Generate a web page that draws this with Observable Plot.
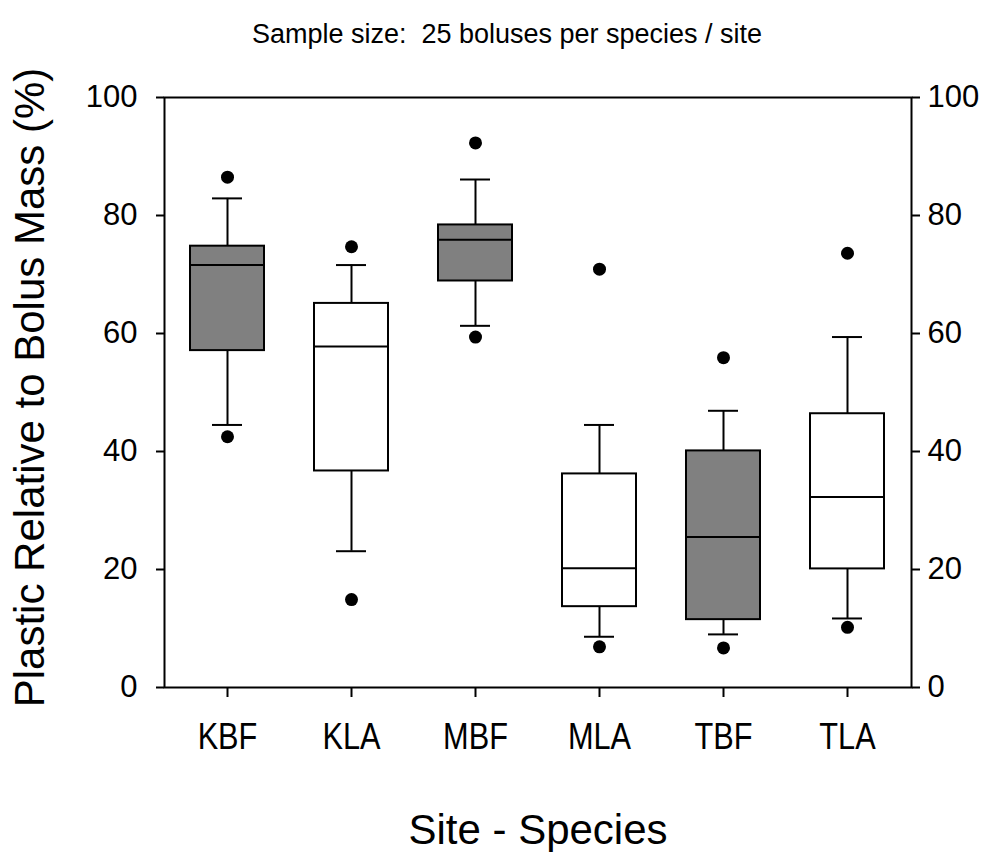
<!DOCTYPE html>
<html>
<head>
<meta charset="utf-8">
<script src="https://cdn.jsdelivr.net/npm/d3@7"></script>
<script src="https://cdn.jsdelivr.net/npm/@observablehq/plot@0.6"></script>
<style>
  html, body { margin: 0; padding: 0; background: #fff; overflow: hidden; }
</style>
</head>
<body>
<div id="chart"></div>
<script>
const categories = ["KBF", "KLA", "MBF", "MLA", "TBF", "TLA"];
const whiskerLow  = [44.5, 23.1, 61.3,  8.6,  9.0, 11.7];
const q1          = [57.1, 36.7, 68.9, 13.7, 11.5, 20.1];
const median      = [71.6, 57.8, 75.9, 20.2, 25.5, 32.3];
const q3          = [74.8, 65.1, 78.4, 36.2, 40.1, 46.4];
const whiskerHigh = [82.9, 71.6, 86.1, 44.5, 46.9, 59.4];
const outlierLow  = [42.5, 14.9, 59.4,  6.9,  6.7, 10.2];
const outlierHigh = [86.5, 74.7, 92.3, 70.9, 55.9, 73.6];
const yTicks = [0, 20, 40, 60, 80, 100];
const titleText = "Sample size:  25 boluses per species / site";
const xLabel = "Site - Species";
const yLabel = "Plastic Relative to Bolus Mass (%)";

const rows = categories.map((c, i) => ({
  cat: c, species: c.slice(1),
  lo: whiskerLow[i], q1: q1[i], med: median[i], q3: q3[i], hi: whiskerHigh[i]
}));
const outliers = categories.flatMap((c, i) => [
  {cat: c, v: outlierLow[i]}, {cat: c, v: outlierHigh[i]}
]);

const font = "'Liberation Sans', Arial, sans-serif";
const chart = Plot.plot({
  width: 994,
  height: 852,
  marginTop: 97,
  marginBottom: 165,
  marginLeft: 164,
  marginRight: 83,
  style: {fontFamily: font, color: "black", background: "white"},
  x: {type: "band", domain: categories, paddingInner: 0.4, paddingOuter: 0.2},
  y: {domain: [0, 100]},
  color: {domain: ["BF", "LA"], range: ["#808080", "#ffffff"]},
  marks: [
    Plot.ruleX(rows, {x: "cat", y1: "lo", y2: "q1", stroke: "black", strokeWidth: 2}),
    Plot.ruleX(rows, {x: "cat", y1: "q3", y2: "hi", stroke: "black", strokeWidth: 2}),
    Plot.tickY(rows, {x: "cat", y: "lo", stroke: "black", strokeWidth: 2, insetLeft: 22, insetRight: 22}),
    Plot.tickY(rows, {x: "cat", y: "hi", stroke: "black", strokeWidth: 2, insetLeft: 22, insetRight: 22}),
    Plot.barY(rows, {x: "cat", y1: "q1", y2: "q3", fill: "species", stroke: "black", strokeWidth: 2}),
    Plot.tickY(rows, {x: "cat", y: "med", stroke: "black", strokeWidth: 2}),
    Plot.dot(outliers, {x: "cat", y: "v", r: 6.5, fill: "black", stroke: null}),
    Plot.frame({stroke: "black", strokeWidth: 2}),
    Plot.axisY({anchor: "left", ticks: yTicks, tickSize: 8, tickPadding: 19, fontSize: 31, strokeWidth: 2, label: null, tickFormat: d => String(d)}),
    Plot.axisY({anchor: "right", ticks: yTicks, tickSize: 8, tickPadding: 8, fontSize: 31, strokeWidth: 2, label: null, tickFormat: d => String(d)}),
    Plot.axisX({anchor: "bottom", tickSize: 10, tickPadding: 25, fontSize: 37, strokeWidth: 2, label: null}),
    Plot.text([titleText], {frameAnchor: "top", lineAnchor: "bottom", dy: -55, dx: -31, fontSize: 27, fill: "black"}),
    Plot.text([xLabel], {frameAnchor: "bottom", lineAnchor: "bottom", dy: 156, fontSize: 42, fill: "black"}),
    Plot.text([yLabel], {frameAnchor: "left", textAnchor: "middle", lineAnchor: "bottom", rotate: -90, dx: -121, dy: -5, fontSize: 42, fill: "black"})
  ]
});
// condense the x tick labels horizontally (reference uses a narrow face)
chart.querySelectorAll('g[aria-label="x-axis tick label"] text').forEach(t => {
  const tr = t.getAttribute("transform") || "";
  t.setAttribute("transform", tr + " scale(0.83,1)");
});
document.getElementById("chart").appendChild(chart);
</script>
</body>
</html>
